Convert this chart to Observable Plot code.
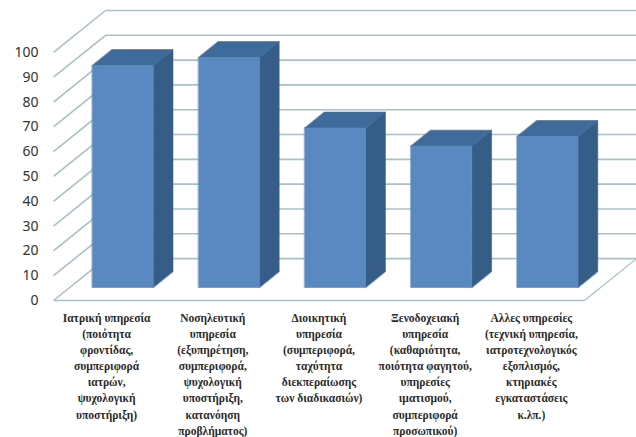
<!DOCTYPE html>
<html>
<head>
<meta charset="utf-8">
<script src="https://cdn.jsdelivr.net/npm/d3@7"></script>
<script src="https://cdn.jsdelivr.net/npm/@observablehq/plot@0.6"></script>
<style>
  html, body { margin: 0; padding: 0; background: #fff; }
  svg { display: block; }
</style>
</head>
<body>
<div id="chart"></div>
<script>
const categories = [
  "Ιατρική υπηρεσία\n(ποιότητα\nφροντίδας,\nσυμπεριφορά\nιατρών,\nψυχολογική\nυποστήριξη)",
  "Νοσηλευτική\nυπηρεσία\n(εξυπηρέτηση,\nσυμπεριφορά,\nψυχολογική\nυποστήριξη,\nκατανόηση\nπροβλήματος)",
  "Διοικητική\nυπηρεσία\n(συμπεριφορά,\nταχύτητα\nδιεκπεραίωσης\nτων διαδικασιών)",
  "Ξενοδοχειακή\nυπηρεσία\n(καθαριότητα,\nποιότητα φαγητού,\nυπηρεσίες\nιματισμού,\nσυμπεριφορά\nπροσωπικού)",
  "Αλλες υπηρεσίες\n(τεχνική υπηρεσία,\nιατροτεχνολογικός\nεξοπλισμός,\nκτηριακές\nεγκαταστάσεις\nκ.λπ.)"
];
const values = [89.5, 92.7, 64.3, 57, 60.9];
const yTicks = [0, 10, 20, 30, 40, 50, 60, 70, 80, 90, 100];

// Oblique projection: a point at depth d (0 = front, 1 = back wall) shifts right and up.
const shiftX = 0.49;
const shiftY = 16.9;
const barFront = 0.31;
const barBack = 0.69;
const barWidth = 0.574;
const xEnd = 5.49;
const project = (x, y, d) => ({x: x + d * shiftX, y: y + d * shiftY});

const bars = values.map((v, i) => ({
  i,
  v,
  x1: i + 0.5 - barWidth / 2,
  x2: i + 0.5 + barWidth / 2
}));

// Each face is a closed polygon passed to a filled line mark.
const poly = (id, pts) => pts.map(p => ({id, ...p}));
const topFaces = bars.flatMap(b => poly(b.i, [
  project(b.x1, b.v, barFront),
  project(b.x2, b.v, barFront),
  project(b.x2, b.v, barBack),
  project(b.x1, b.v, barBack)
]));
const sideFaces = bars.flatMap(b => poly(b.i, [
  project(b.x2, 0, barFront),
  project(b.x2, b.v, barFront),
  project(b.x2, b.v, barBack),
  project(b.x2, 0, barBack)
]));
const frontFaces = bars.flatMap(b => poly(b.i, [
  project(b.x1, 0, barFront),
  project(b.x2, 0, barFront),
  project(b.x2, b.v, barFront),
  project(b.x1, b.v, barFront)
]));

const gridColor = "#a9c0c6";
const grid = {stroke: gridColor, strokeWidth: 1.6};
const face = color => ({x: "x", y: "y", z: "id", fill: color, stroke: color, strokeWidth: 0.6, curve: "linear-closed"});

const chart = Plot.plot({
  width: 636,
  height: 437,
  marginLeft: 53,
  marginRight: 0,
  marginTop: 10,
  marginBottom: 137,
  x: {domain: [0, xEnd], axis: null},
  y: {domain: [0, 100 + shiftY], axis: null},
  marks: [
    // back wall
    Plot.link(yTicks, {x1: shiftX, x2: xEnd, y1: d => d + shiftY, y2: d => d + shiftY, ...grid}),
    // left wall
    Plot.link(yTicks, {x1: 0, x2: shiftX, y1: d => d, y2: d => d + shiftY, ...grid}),
    // front and right edges of the floor
    Plot.link([0], {x1: 0, x2: categories.length, y1: 0, y2: 0, ...grid}),
    Plot.link([0], {x1: categories.length, x2: categories.length + shiftX, y1: 0, y2: shiftY, stroke: gridColor, strokeWidth: 1.2}),
    Plot.axisY(yTicks, {
      anchor: "left",
      tickSize: 0,
      tickPadding: 15,
      label: null,
      fontSize: 14,
      fontFamily: "Noto Sans",
      color: "#333"
    }),
    Plot.line(sideFaces, face("#365d88")),
    Plot.line(topFaces, face("#3f6b9b")),
    Plot.line(frontFaces, face("#5a89c1")),
    Plot.text(categories, {
      x: (d, i) => i + 0.5,
      y: 0,
      text: d => d,
      dy: 10,
      lineAnchor: "top",
      lineHeight: 1.4,
      fontSize: 11.5,
      fontWeight: "bold",
      fontFamily: "Liberation Serif",
      fill: "#2b2b2b",
      textAnchor: "middle"
    })
  ]
});
document.getElementById("chart").appendChild(chart);
</script>
</body>
</html>
